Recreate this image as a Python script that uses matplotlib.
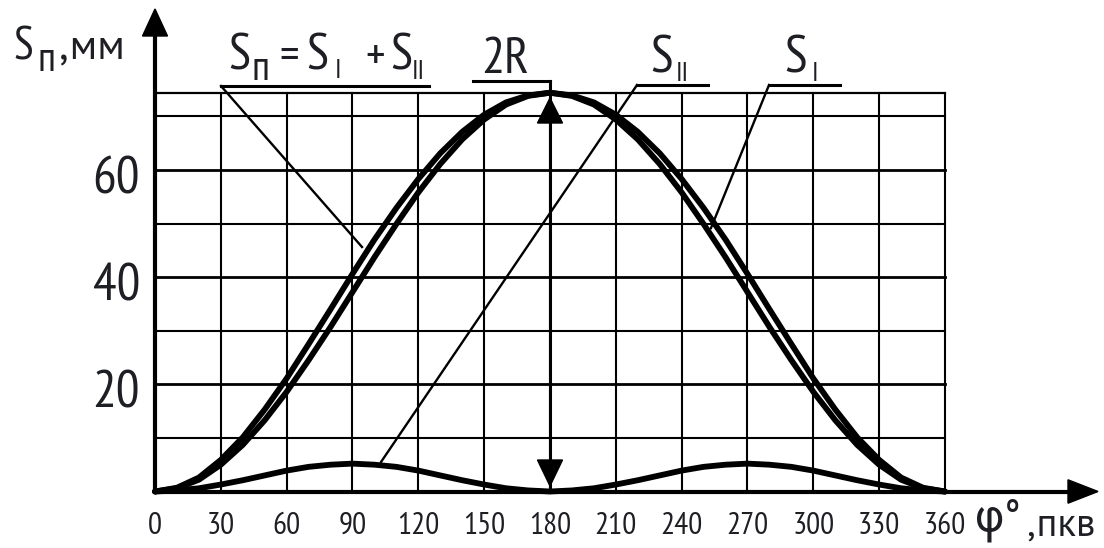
import matplotlib
matplotlib.use("Agg")
import matplotlib.pyplot as plt
from matplotlib.patches import Polygon

# ---------------- data ----------------
angles = list(range(0, 361, 10))
s_I = [0, 0.6, 2.2, 5.0, 8.7, 13.3, 18.6, 24.5, 30.7, 37.2, 43.7, 49.9, 55.8, 61.1,
       65.7, 69.4, 72.2, 73.8, 74.4, 73.8, 72.2, 69.4, 65.7, 61.1, 55.8, 49.9, 43.7,
       37.2, 30.7, 24.5, 18.6, 13.3, 8.7, 5.0, 2.2, 0.6, 0]
s_II = [0, 0.2, 0.6, 1.3, 2.1, 3.0, 3.9, 4.6, 5.0, 5.2, 5.0, 4.6, 3.9, 3.0, 2.1, 1.3,
        0.6, 0.2, 0, 0.2, 0.6, 1.3, 2.1, 3.0, 3.9, 4.6, 5.0, 5.2, 5.0, 4.6, 3.9, 3.0,
        2.1, 1.3, 0.6, 0.2, 0]
s_n = [0, 0.7, 2.6, 5.9, 10.1, 15.3, 21.1, 27.5, 34.0, 40.6, 47.0, 52.9, 58.3, 63.1,
       67.1, 70.3, 72.6, 73.9, 74.4, 73.9, 72.6, 70.3, 67.1, 63.1, 58.3, 52.9, 47.0,
       40.6, 34.0, 27.5, 21.1, 15.3, 10.1, 5.9, 2.6, 0.7, 0]
x_ticks = [0, 30, 60, 90, 120, 150, 180, 210, 240, 270, 300, 330, 360]
y_grid = [10, 20, 30, 40, 50, 60, 70]
y_labels = [20, 40, 60]
two_R = 74.4

FONT = ["PT Sans Narrow", "Roboto Condensed", "DejaVu Sans"]
FONT_WIDE = ["PT Sans", "DejaVu Sans"]
INK = "#1e1f24"

# reference-pixel -> data helpers (annotation placement only)
X0, XS = 155.0, 2.1944
Y0, YS = 491.5, 5.36
def fx(px):
    return (px - X0) / XS
def fy(py):
    return (Y0 - py) / YS
def dxp(p):
    return p / XS
def dyp(p):
    return p / YS

fig = plt.figure(figsize=(11.04, 5.48), dpi=100)
ax = fig.add_axes([0, 0, 1, 1])
ax.set_xlim(fx(0), fx(1104))
ax.set_ylim(fy(548), fy(0))
ax.axis("off")

# ---------------- grid ----------------
for v in y_grid:
    lw = 2.0 if v in y_labels else 1.5
    ax.plot([0, 360], [v, v], color="black", lw=lw, zorder=1)
ax.plot([0, 360], [two_R, two_R], color="black", lw=1.6, zorder=1)
for t in x_ticks[1:]:
    ax.plot([t, t], [0, two_R], color="black", lw=1.5, zorder=1)

# ---------------- axes with arrows ----------------
ax.plot([0, 0], [0, fy(36)], color="black", lw=3, zorder=3, solid_capstyle="butt")
ax.add_patch(Polygon([[0, fy(9)], [-dxp(12.5), fy(36)], [dxp(12.5), fy(36)]],
                     closed=True, color="black", zorder=3))
ax.plot([0, fx(1068)], [0, 0], color="black", lw=3, zorder=3, solid_capstyle="butt")
ax.add_patch(Polygon([[fx(1098), 0], [fx(1068), dyp(11.7)], [fx(1068), -dyp(11.7)]],
                     closed=True, color="black", zorder=3))

# ---------------- curves ----------------
for series in (s_n, s_I, s_II):
    ax.plot(angles, series, color="black", lw=4.2, zorder=4,
            solid_capstyle="round", solid_joinstyle="round")

# ---------------- 2R dimension arrow ----------------
ax.plot([180, 180], [0, fy(81)], color="black", lw=2.2, zorder=5)
ax.add_patch(Polygon([[180, fy(98)], [180 - dxp(12.5), fy(123)], [180 + dxp(12.5), fy(123)]],
                     closed=True, color="black", zorder=5))
ax.add_patch(Polygon([[180, fy(486)], [180 - dxp(12.5), fy(460)], [180 + dxp(12.5), fy(460)]],
                     closed=True, color="black", zorder=5))
ax.plot([fx(473), 180], [fy(81), fy(81)], color="black", lw=2.2, zorder=5)

# ---------------- leaders ----------------
LW_L = 1.7
ax.plot([fx(221), fx(429)], [fy(86), fy(86)], color="black", lw=2.2, zorder=5)
ax.plot([fx(221), fx(362)], [fy(86), fy(247)], color="black", lw=LW_L, zorder=5)
ax.plot([fx(637), fx(708)], [fy(85), fy(85)], color="black", lw=2.2, zorder=5)
ax.plot([fx(637), fx(381)], [fy(85), fy(462)], color="black", lw=LW_L, zorder=5)
ax.plot([fx(769), fx(840)], [fy(85), fy(85)], color="black", lw=2.2, zorder=5)
ax.plot([fx(769), fx(711)], [fy(85), fy(228)], color="black", lw=LW_L, zorder=5)

# ---------------- text ----------------
def txt(px, py, s, size, ha="left", family=FONT):
    ax.text(fx(px), fy(py), s, fontsize=size, family=family, color=INK,
            ha=ha, va="baseline", zorder=6)

for t in x_ticks:
    ax.text(t, fy(533.5), str(t), fontsize=22.5, family=FONT, color=INK,
            ha="center", va="baseline")
for v in y_labels:
    ax.text(fx(140), v - dyp(23.5), str(v), fontsize=38, family=FONT, color=INK,
            ha="right", va="baseline")

# y axis title: S_п, мм
txt(13, 59, "S", 33)
txt(37, 71, "п", 30)
txt(58, 59, ",мм", 31, family=FONT_WIDE)

# S_п = S_I + S_II
txt(228, 70, "S", 37)
txt(251, 80, "п", 30)
txt(279, 70, "=", 34)
txt(306, 70, "S", 37)
txt(335, 78, "I", 20)
txt(365, 70, "+", 34)
txt(390, 70, "S", 37)
txt(412, 79, "II", 20)

# 2R
txt(481, 73, "2R", 37)

# S_II, S_I
txt(650, 72, "S", 38)
txt(676, 81, "II", 20)
txt(784, 72, "S", 38)
txt(812, 81, "I", 20)

# x axis title: φ°, пкв
txt(975, 531, "φ°", 34)
txt(1026, 536, ",пкв", 28, family=FONT_WIDE)

fig.savefig("out.png", dpi=100, facecolor="white")
